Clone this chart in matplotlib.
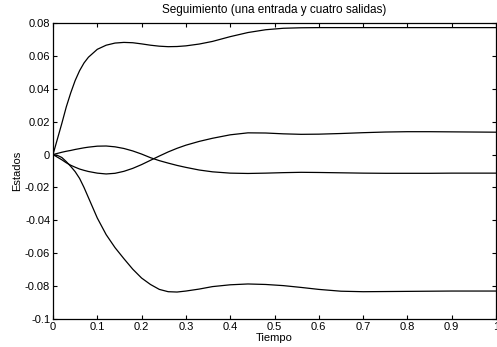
import numpy as np
import matplotlib.pyplot as plt

plt.rcParams['font.family'] = ['Liberation Sans', 'DejaVu Sans']
plt.rcParams['axes.unicode_minus'] = False

# Tiempo y estados
t = [0, 0.01, 0.02, 0.03, 0.04, 0.05, 0.06, 0.07, 0.08, 0.1, 0.12, 0.14,
     0.16, 0.18, 0.2, 0.22, 0.24, 0.26, 0.28, 0.3, 0.33, 0.36, 0.4, 0.44,
     0.48, 0.52, 0.56, 0.6, 0.65, 0.7, 0.75, 0.8, 0.85, 0.9, 0.95, 1.0]

x1 = [0, 0.0095, 0.019, 0.029, 0.0375, 0.045, 0.051, 0.0557, 0.0592, 0.0640,
      0.0665, 0.0678, 0.0682, 0.0680, 0.0673, 0.0665, 0.0659, 0.0656, 0.0657,
      0.0661, 0.0672, 0.0688, 0.0717, 0.0742, 0.0759, 0.0768, 0.0771, 0.0772,
      0.0772, 0.0772, 0.0772, 0.0772, 0.0772, 0.0772, 0.0772, 0.0772]

x2 = [0, 0.0007, 0.0014, 0.0020, 0.0025, 0.0031, 0.0036, 0.0041, 0.0045,
      0.0051, 0.0052, 0.0047, 0.0037, 0.0022, 0.0003, -0.0019, -0.0037,
      -0.0052, -0.0066, -0.0078, -0.0094, -0.0105, -0.0113, -0.0115, -0.0113,
      -0.0110, -0.0108, -0.0109, -0.0111, -0.0113, -0.0114, -0.0114, -0.0114,
      -0.0113, -0.0113, -0.0113]

x3 = [0, -0.0016, -0.0032, -0.0050, -0.0065, -0.0077, -0.0088, -0.0096,
      -0.0103, -0.0113, -0.0118, -0.0114, -0.0102, -0.0084, -0.0061, -0.0035,
      -0.0009, 0.0016, 0.0038, 0.0057, 0.0080, 0.0099, 0.0120, 0.0132, 0.0131,
      0.0126, 0.0123, 0.0124, 0.0128, 0.0133, 0.0137, 0.0139, 0.0139, 0.0138,
      0.0137, 0.0136]

x4 = [0, -0.0005, -0.0018, -0.0043, -0.0072, -0.0104, -0.0145, -0.0200,
      -0.0262, -0.0386, -0.0487, -0.0566, -0.0633, -0.0697, -0.0751, -0.0790,
      -0.0820, -0.0834, -0.0836, -0.0830, -0.0818, -0.0803, -0.0792, -0.0787,
      -0.0790, -0.0797, -0.0808, -0.0820, -0.0831, -0.0834, -0.0833, -0.0832,
      -0.0831, -0.0830, -0.0830, -0.0830]

xticks = [0, 0.1, 0.2, 0.3, 0.4, 0.5, 0.6, 0.7, 0.8, 0.9, 1]
xlabels = ['0', '0.1', '0.2', '0.3', '0.4', '0.5', '0.6', '0.7', '0.8', '0.9', '1']
yticks = [-0.1, -0.08, -0.06, -0.04, -0.02, 0, 0.02, 0.04, 0.06, 0.08]
ylabels = ['-0.1', '-0.08', '-0.06', '-0.04', '-0.02', '0', '0.02', '0.04', '0.06', '0.08']

fig = plt.figure(figsize=(4.97, 3.47), dpi=100)
ax = fig.add_axes([53 / 497, 1 - 319 / 347, 443 / 497, 296 / 347])

for serie in (x1, x2, x3, x4):
    ax.plot(t, serie, color='black', linewidth=0.9)

ax.set_xlim(0, 1)
ax.set_ylim(-0.1, 0.08)
ax.set_xticks(xticks)
ax.set_xticklabels(xlabels)
ax.set_yticks(yticks)
ax.set_yticklabels(ylabels)
ax.tick_params(direction='in', length=3, width=0.8, labelsize=8,
               top=True, right=True, pad=2)
for s in ax.spines.values():
    s.set_linewidth(0.9)

ax.set_title('Seguimiento (una entrada y cuatro salidas)', fontsize=8.5, pad=7)
ax.set_xlabel('Tiempo', fontsize=8, labelpad=1)
ax.set_ylabel('Estados', fontsize=8, labelpad=2)

fig.savefig('out.png', dpi=100)
